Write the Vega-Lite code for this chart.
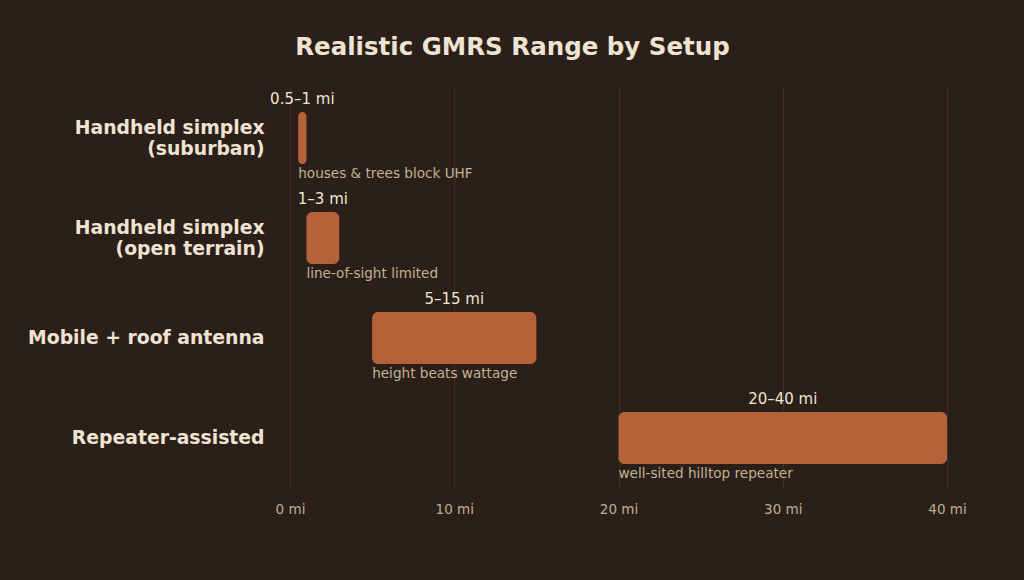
{
  "$schema": "https://vega.github.io/schema/vega-lite/v6.json",
  "width": 657,
  "height": 400,
  "autosize": "none",
  "padding": {"left": 290, "top": 88, "right": 77, "bottom": 92},
  "background": "#2b2019",
  "title": {
    "text": "Realistic GMRS Range by Setup",
    "font": "DejaVu Sans",
    "fontSize": 24.5,
    "fontWeight": "bold",
    "color": "#efe3d3",
    "anchor": "middle",
    "dx": -106,
    "offset": 28
  },
  "config": {
    "view": {"stroke": null},
    "font": "DejaVu Sans"
  },
  "data": {
    "values": [
      {"setup": "Handheld simplex (suburban)", "lo": 0.5, "hi": 1, "range": "0.5–1 mi", "note": "houses & trees block UHF"},
      {"setup": "Handheld simplex (open terrain)", "lo": 1, "hi": 3, "range": "1–3 mi", "note": "line-of-sight limited"},
      {"setup": "Mobile + roof antenna", "lo": 5, "hi": 15, "range": "5–15 mi", "note": "height beats wattage"},
      {"setup": "Repeater-assisted", "lo": 20, "hi": 40, "range": "20–40 mi", "note": "well-sited hilltop repeater"}
    ]
  },
  "encoding": {
    "y": {
      "field": "setup",
      "type": "nominal",
      "sort": null,
      "title": null,
      "scale": {"paddingInner": 0, "paddingOuter": 0},
      "axis": {
        "domain": false,
        "ticks": false,
        "labelPadding": 26,
        "labelFontSize": 18.8,
        "labelFontWeight": "bold",
        "labelColor": "#efe3d3",
        "labelLineHeight": 21,
        "labelLimit": 300,
        "labelOffset": {"condition": {"test": "indexof(datum.label, ' (') > 0", "value": -10.5}, "value": 0},
        "labelExpr": "indexof(datum.label, ' (') > 0 ? [substring(datum.label, 0, indexof(datum.label, ' (')), substring(datum.label, indexof(datum.label, ' (') + 1)] : datum.label"
      }
    }
  },
  "layer": [
    {
      "mark": {"type": "bar", "color": "#b5623b", "height": 52, "cornerRadius": 6},
      "encoding": {
        "x": {
          "field": "lo",
          "type": "quantitative",
          "title": null,
          "scale": {"domain": [0, 40], "nice": false},
          "axis": {
            "values": [0, 10, 20, 30, 40],
            "labelExpr": "datum.value + ' mi'",
            "domain": false,
            "ticks": false,
            "labelFlush": false,
            "labelPadding": 14,
            "labelFontSize": 13.5,
            "labelColor": "#bfae94",
            "grid": true,
            "gridColor": "#3e2f25",
            "gridWidth": 1
          }
        },
        "x2": {"field": "hi"}
      }
    },
    {
      "transform": [{"fold": ["lo", "hi"], "as": ["end", "miles"]}],
      "mark": {"type": "text", "fontSize": 15, "color": "#efe3d3", "baseline": "middle", "align": "center", "yOffset": -39},
      "encoding": {
        "x": {"field": "miles", "aggregate": "mean", "type": "quantitative"},
        "text": {"field": "range"}
      }
    },
    {
      "mark": {"type": "text", "fontSize": 13.6, "color": "#c2b193", "baseline": "middle", "align": "left", "yOffset": 36},
      "encoding": {
        "x": {"field": "lo", "type": "quantitative"},
        "text": {"field": "note"}
      }
    }
  ]
}
